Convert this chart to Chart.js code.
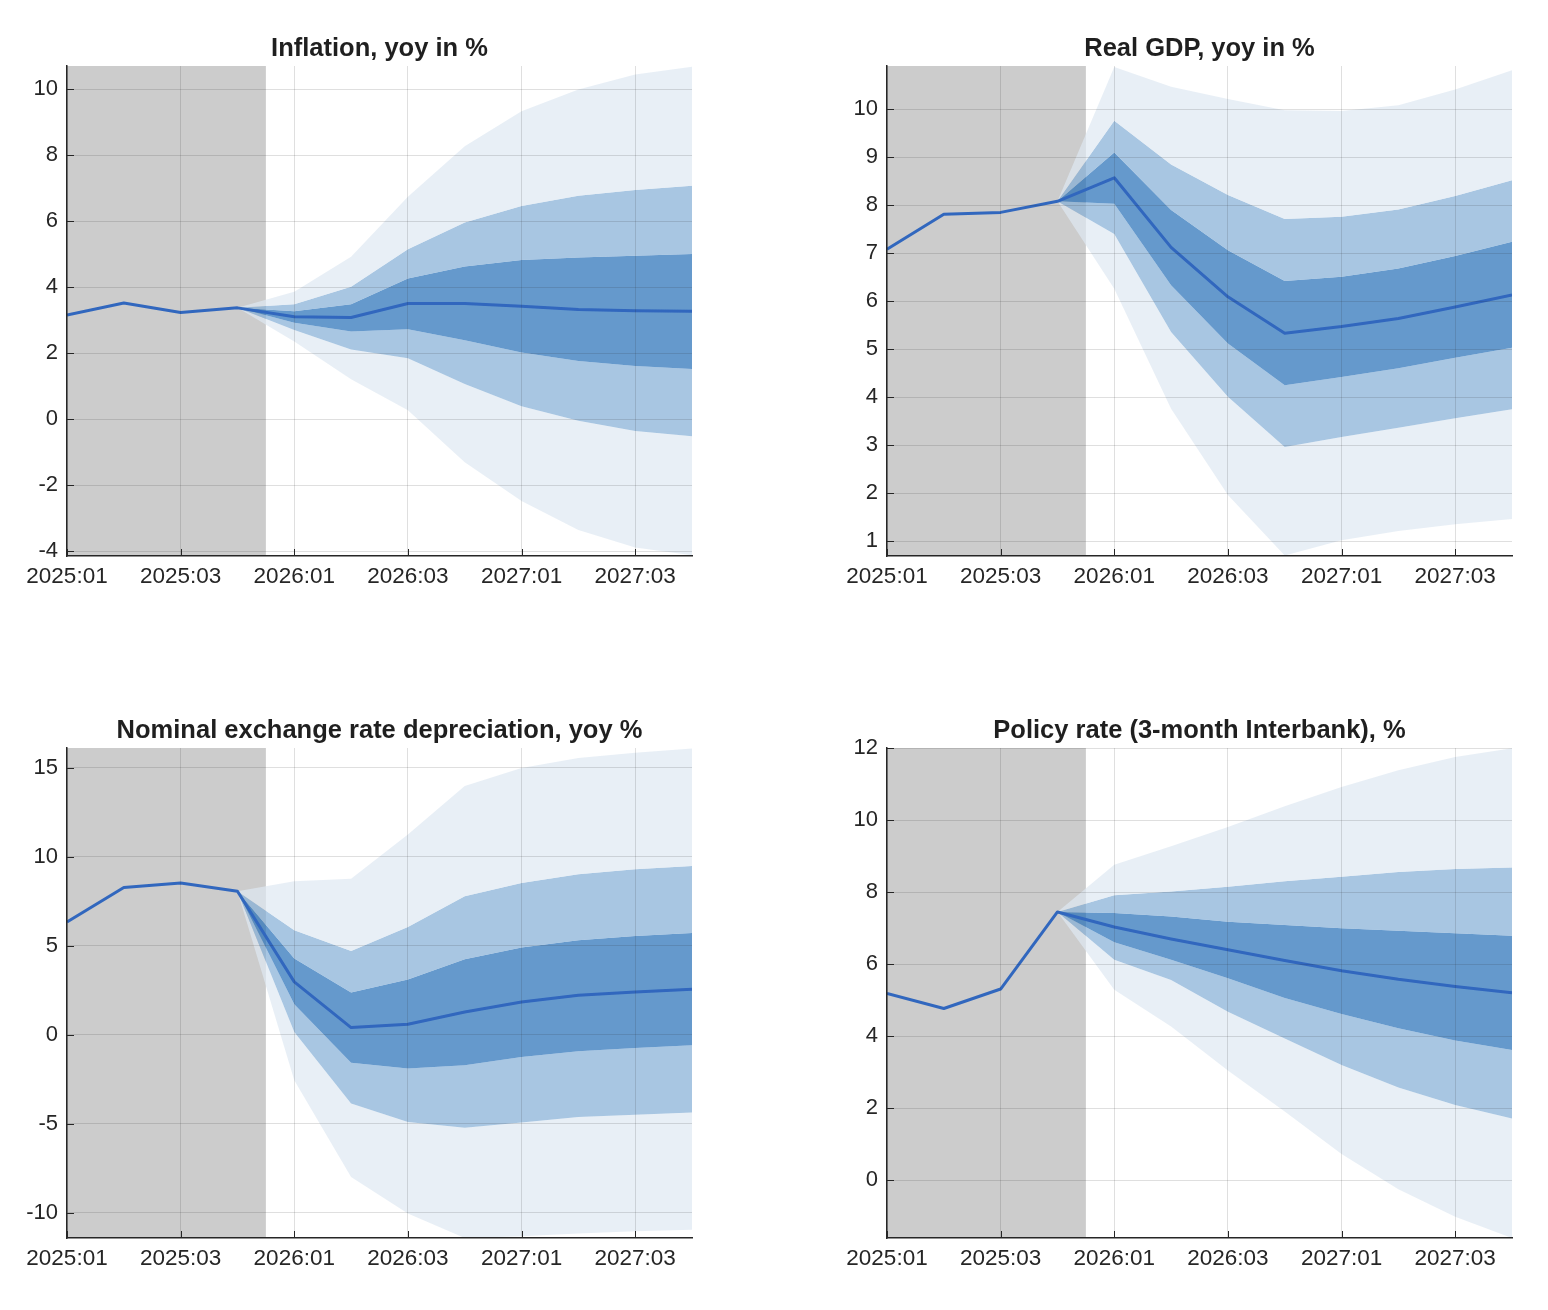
<!DOCTYPE html>
<html>
<head>
<meta charset="utf-8">
<script src="https://cdn.jsdelivr.net/npm/chart.js@4.4.1/dist/chart.umd.min.js"></script>
<style>
  html, body { margin: 0; padding: 0; background: #ffffff; }
  body { width: 1548px; height: 1310px; position: relative; overflow: hidden; }
  .panel { position: absolute; width: 759px; height: 620px; }
</style>
</head>
<body>
<div class="panel" style="left:0px;top:0px"><canvas id="c0"></canvas></div>
<div class="panel" style="left:820px;top:0px"><canvas id="c1"></canvas></div>
<div class="panel" style="left:0px;top:682px"><canvas id="c2"></canvas></div>
<div class="panel" style="left:820px;top:682px"><canvas id="c3"></canvas></div>
<script>
// ---------------- DATA ----------------
const quarters = ['2025:01','2025:02','2025:03','2025:04','2026:01','2026:02','2026:03','2026:04','2027:01','2027:02','2027:03','2027:04'];
const xTickIdx = [0, 2, 4, 6, 8, 10];
const lastHistIdx = 3;        // bands start at 2025:04
const historyEnd = 3.5;       // grey shading ends half-way to 2026:01

// Inflation, yoy in %
const inflLine = [3.15, 3.52, 3.23, 3.37, 3.10, 3.08, 3.50, 3.50, 3.42, 3.32, 3.28, 3.27];
const inflHi90 = [3.86, 4.92, 6.74, 8.27, 9.33, 9.99, 10.44, 10.68];
const inflHi60 = [3.48, 4.01, 5.15, 5.96, 6.46, 6.77, 6.94, 7.07];
const inflHi30 = [3.27, 3.48, 4.26, 4.62, 4.82, 4.90, 4.95, 5.00];
const inflLo30 = [2.92, 2.65, 2.72, 2.39, 2.02, 1.76, 1.61, 1.52];
const inflLo60 = [2.70, 2.11, 1.84, 1.06, 0.39, -0.05, -0.36, -0.52];
const inflLo90 = [2.35, 1.21, 0.27, -1.31, -2.48, -3.36, -3.89, -4.13];
const inflYTicks = [-4, -2, 0, 2, 4, 6, 8, 10];

// Real GDP, yoy in %
const gdpLine = [7.08, 7.81, 7.85, 8.08, 8.57, 7.12, 6.09, 5.33, 5.47, 5.64, 5.88, 6.13];
const gdpHi90 = [10.88, 10.47, 10.21, 9.98, 9.96, 10.08, 10.41, 10.81];
const gdpHi60 = [9.76, 8.85, 8.21, 7.71, 7.76, 7.91, 8.19, 8.52];
const gdpHi30 = [9.10, 7.90, 7.06, 6.42, 6.51, 6.68, 6.94, 7.24];
const gdpLo30 = [8.03, 6.33, 5.12, 4.25, 4.42, 4.60, 4.82, 5.03];
const gdpLo60 = [7.40, 5.36, 4.01, 2.96, 3.17, 3.36, 3.56, 3.75];
const gdpLo90 = [6.26, 3.76, 1.96, 0.70, 1.02, 1.21, 1.35, 1.46];
const gdpYTicks = [1, 2, 3, 4, 5, 6, 7, 8, 9, 10];

// Nominal exchange rate depreciation, yoy %
const fxLine = [6.33, 8.26, 8.52, 8.05, 2.96, 0.39, 0.58, 1.27, 1.83, 2.21, 2.39, 2.54];
const fxHi90 = [8.61, 8.76, 11.24, 13.97, 14.98, 15.54, 15.84, 16.07];
const fxHi60 = [5.86, 4.70, 6.05, 7.77, 8.52, 9.01, 9.29, 9.47];
const fxHi30 = [4.27, 2.36, 3.09, 4.23, 4.89, 5.30, 5.54, 5.71];
const fxLo30 = [1.70, -1.59, -1.91, -1.72, -1.26, -0.94, -0.75, -0.60];
const fxLo60 = [0.15, -3.88, -4.91, -5.23, -4.94, -4.63, -4.50, -4.38];
const fxLo90 = [-2.57, -8.00, -10.06, -11.43, -11.33, -11.18, -11.05, -10.96];
const fxYTicks = [-10, -5, 0, 5, 10, 15];

// Policy rate (3-month Interbank), %
const polLine = [5.19, 4.77, 5.31, 7.45, 7.03, 6.70, 6.40, 6.10, 5.82, 5.58, 5.38, 5.21];
const polHi90 = [8.76, 9.27, 9.81, 10.38, 10.92, 11.38, 11.75, 11.99];
const polHi60 = [7.91, 8.02, 8.15, 8.30, 8.43, 8.56, 8.64, 8.68];
const polHi30 = [7.42, 7.32, 7.18, 7.09, 7.00, 6.93, 6.86, 6.79];
const polLo30 = [6.61, 6.12, 5.61, 5.06, 4.62, 4.22, 3.88, 3.62];
const polLo60 = [6.12, 5.56, 4.68, 3.94, 3.20, 2.58, 2.09, 1.72];
const polLo90 = [5.29, 4.27, 3.05, 1.91, 0.73, -0.25, -1.01, -1.60];
const polYTicks = [0, 2, 4, 6, 8, 10, 12];

// ---------------- STYLE ----------------
const FONT = "'Liberation Sans', Arial, Helvetica, sans-serif";
const LINE_COLOR = '#3167BE';
const LIGHT = 'rgba(222,232,242,0.7)';
const MID = 'rgba(131,174,214,0.7)';
const DARK = 'rgba(36,109,182,0.7)';
const GREY = '#CCCCCC';
const GRID = 'rgba(38,38,38,0.15)';
const AXIS = '#262626';
const TEXT = '#262626';

const greyPlugin = {
  id: 'historyShade',
  beforeDatasetsDraw(chart) {
    const { ctx, chartArea: a, scales: { x } } = chart;
    const xr = x.getPixelForValue(historyEnd);
    ctx.save();
    ctx.fillStyle = GREY;
    ctx.fillRect(a.left, a.top, xr - a.left, a.bottom - a.top);
    ctx.restore();
  }
};

const inwardTicks = {
  id: 'inwardTicks',
  afterDraw(chart) {
    const { ctx, chartArea: a, scales: { x, y } } = chart;
    ctx.save();
    ctx.strokeStyle = AXIS;
    ctx.lineWidth = 1;
    ctx.beginPath();
    x.ticks.forEach(t => {
      const px = Math.round(x.getPixelForValue(t.value)) + 0.5;
      ctx.moveTo(px, a.bottom); ctx.lineTo(px, a.bottom - 7);
    });
    y.ticks.forEach(t => {
      const py = Math.round(y.getPixelForValue(t.value)) + 0.5;
      ctx.moveTo(a.left, py); ctx.lineTo(a.left + 7, py);
    });
    ctx.stroke();
    ctx.restore();
  }
};

function makeChart(id, title, line, hi90, hi60, hi30, lo30, lo60, lo90, yMin, yMax, yTicks) {
  const pts = arr => arr.map((v, i) => ({ x: i, y: v }));
  const band = arr => [line[lastHistIdx], ...arr].map((v, i) => ({ x: i + lastHistIdx, y: v }));
  const bandDs = (arr, fill, color) => ({
    data: band(arr), fill: fill, backgroundColor: color || 'transparent',
    borderWidth: 0, borderColor: 'transparent', pointRadius: 0, tension: 0
  });
  const datasets = [
    { data: pts(line), borderColor: LINE_COLOR, borderWidth: 3, pointRadius: 0, fill: false, tension: 0,
      borderJoinStyle: 'round', borderCapStyle: 'butt' },
    bandDs(hi90, '+1', LIGHT),
    bandDs(hi60, '+1', MID),
    bandDs(hi30, '+1', DARK),
    bandDs(lo30, '+1', MID),
    bandDs(lo60, '+1', LIGHT),
    bandDs(lo90, false, null)
  ];
  return new Chart(document.getElementById(id), {
    type: 'line',
    data: { datasets },
    plugins: [greyPlugin, inwardTicks],
    options: {
      responsive: true,
      maintainAspectRatio: false,
      animation: false,
      events: [],
      layout: { padding: { left: 0, right: 67, top: 0, bottom: 24 } },
      plugins: {
        legend: { display: false },
        tooltip: { enabled: false },
        title: {
          display: true, text: title, color: '#1f1f1f', fullSize: false,
          font: { family: FONT, size: 25.5, weight: 'bold', lineHeight: 1.2 },
          padding: { top: 34, bottom: 1.4 }
        }
      },
      scales: {
        x: {
          type: 'linear', min: 0, max: quarters.length - 1,
          afterBuildTicks: s => { s.ticks = xTickIdx.map(v => ({ value: v })); },
          afterFit: s => { s.height = 40; },
          grid: { color: GRID, lineWidth: 1, drawTicks: false, z: 1 },
          border: { display: true, color: AXIS, width: 1.5, z: 2 },
          ticks: {
            z: 1, color: TEXT, padding: 7, maxRotation: 0, minRotation: 0, autoSkip: false,
            font: { family: FONT, size: 22.5 },
            callback: v => quarters[v] !== undefined ? quarters[v] : ''
          }
        },
        y: {
          type: 'linear', min: yMin, max: yMax,
          afterBuildTicks: s => { s.ticks = yTicks.map(v => ({ value: v })); },
          afterFit: s => { s.width = 67; },
          grid: { color: GRID, lineWidth: 1, drawTicks: false, z: 1 },
          border: { display: true, color: AXIS, width: 1.5, z: 2 },
          ticks: {
            z: 1, color: TEXT, padding: 9,
            font: { family: FONT, size: 22 },
            callback: v => String(v)
          }
        }
      }
    }
  });
}

makeChart('c0', 'Inflation, yoy in %', inflLine, inflHi90, inflHi60, inflHi30, inflLo30, inflLo60, inflLo90, -4.15, 10.7, inflYTicks);
makeChart('c1', 'Real GDP, yoy in %', gdpLine, gdpHi90, gdpHi60, gdpHi30, gdpLo30, gdpLo60, gdpLo90, 0.69, 10.9, gdpYTicks);
makeChart('c2', 'Nominal exchange rate depreciation, yoy %', fxLine, fxHi90, fxHi60, fxHi30, fxLo30, fxLo60, fxLo90, -11.43, 16.1, fxYTicks);
makeChart('c3', 'Policy rate (3-month Interbank), %', polLine, polHi90, polHi60, polHi30, polLo30, polLo60, polLo90, -1.6, 12, polYTicks);
</script>
</body>
</html>
